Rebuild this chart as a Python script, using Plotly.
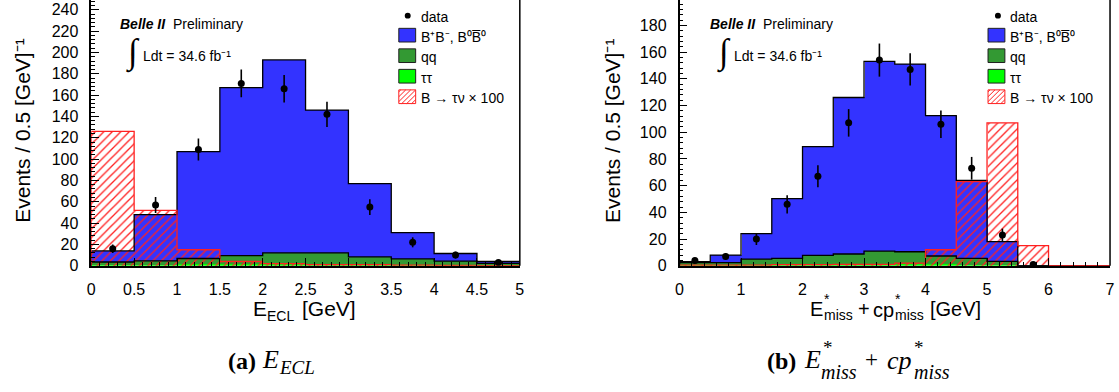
import plotly.graph_objects as go

W, H = 1119, 392

# ---------------- data : panel (a)  E_ECL ----------------
bin_width = 0.5
bins_a = [0.0, 0.5, 1.0, 1.5, 2.0, 2.5, 3.0, 3.5, 4.0, 4.5]          # lower bin edges [GeV]
bbbar_a = [10.5, 43.5, 100.2, 157.5, 181.0, 134.0, 68.7, 24.5, 7.2, 1.8]
qq_a = [3.0, 4.0, 6.0, 8.5, 11.0, 11.0, 7.5, 6.0, 4.0, 2.0]
tautau_a = [0.5, 0.5, 0.8, 1.0, 1.0, 1.0, 0.8, 0.5, 0.3, 0.2]
signal_a = [126, 52, 15, 4, 2, 1, 1, 0.5, 0.3, 0.2]                 # B -> tau nu x 100
data_a = [16, 57, 109, 171, 166, 142, 55, 22, 10, 3]
data_err_a = [4.0, 7.5, 10.4, 13.1, 12.9, 11.9, 7.4, 4.7, 3.2, 1.7]

# ---------------- data : panel (b)  E*miss + cp*miss ----------------
bins_b = [0.0, 0.5, 1.0, 1.5, 2.0, 2.5, 3.0, 3.5, 4.0, 4.5, 5.0, 5.5, 6.0, 6.5]
bbbar_b = [0.7, 5.7, 19.0, 44.8, 81.4, 117.2, 142.0, 140.5, 105.1, 58.5, 14.7, 0, 0, 0]
qq_b = [2.0, 2.0, 4.5, 5.0, 7.0, 8.0, 10.0, 9.5, 6.5, 5.0, 3.0, 0, 0, 0]
tautau_b = [0.3, 0.3, 0.5, 0.5, 0.8, 0.8, 1.0, 1.0, 0.8, 0.5, 0.3, 0, 0, 0]
signal_b = [0.5, 0.5, 0.5, 0.8, 0.8, 1.0, 1.0, 2.0, 12, 63, 107, 15, 0, 0]
data_b = [4, 7, 20, 46, 67, 107, 154, 147, 106, 73, 23, 1, None, None]
data_err_b = [2.0, 2.6, 4.5, 6.8, 8.2, 10.3, 12.4, 12.1, 10.3, 8.5, 4.8, 1.0, None, None]

legend_labels = ["data", "B\u207aB\u207b, B\u2070B\u0305\u2070",
                 "qq", "\u03c4\u03c4", "B \u2192 \u03c4\u03bd \u00d7 100"]

C_BB = "#3333ff"
C_QQ = "#339933"
C_TT = "#00ff00"
C_SIG = "#ff2020"
SANS = "Liberation Sans, Arial, sans-serif"
SERIF = "Liberation Serif, Times New Roman, serif"


def px(x):
    return x / W


def py(y):
    return 1 - y / H


def step_xy(lo, width, vals):
    xs, ys = [lo[0]], [0]
    for x, v in zip(lo, vals):
        xs.append(x)
        ys.append(v)
    xs += [lo[-1] + width, lo[-1] + width]
    ys += [vals[-1], 0]
    return xs, ys


fig = go.Figure()


def add_panel(bins, bb, qq, tt, sig, data, err, xa, ya):
    centers = [b + bin_width / 2 for b in bins]
    base_qq = list(tt)
    base_bb = [q + t for q, t in zip(qq, tt)]
    top = [b + q + t for b, q, t in zip(bb, qq, tt)]
    common = dict(width=bin_width, xaxis=xa, yaxis=ya, showlegend=False,
                  hoverinfo="skip")
    fig.add_trace(go.Bar(x=centers, y=bb, base=base_bb,
                         marker=dict(color=C_BB, line=dict(width=0)), **common))
    fig.add_trace(go.Bar(x=centers, y=qq, base=base_qq,
                         marker=dict(color=C_QQ, line=dict(width=0)), **common))
    fig.add_trace(go.Bar(x=centers, y=tt, base=[0] * len(tt),
                         marker=dict(color=C_TT, line=dict(width=0)), **common))
    fig.add_trace(go.Bar(x=centers, y=sig, base=[0] * len(sig),
                         marker=dict(color=C_SIG, line=dict(width=0),
                                     pattern=dict(shape="/", fgcolor=C_SIG,
                                                  bgcolor="rgba(0,0,0,0)",
                                                  fillmode="replace",
                                                  size=6, solidity=0.22)),
                         **common))
    # histogram outlines
    for vals, col in ((base_bb, "black"), (top, "black"), (sig, C_SIG)):
        sx, sy = step_xy(bins, bin_width, vals)
        fig.add_trace(go.Scatter(x=sx, y=sy, mode="lines", line_shape="hv",
                                 line=dict(color=col, width=1.3),
                                 xaxis=xa, yaxis=ya, showlegend=False,
                                 hoverinfo="skip"))
    fig.add_trace(go.Scatter(x=centers, y=data, mode="markers",
                             marker=dict(color="black", size=7),
                             error_y=dict(type="data", array=err, color="black",
                                          thickness=1.6, width=0),
                             xaxis=xa, yaxis=ya, showlegend=False,
                             hoverinfo="skip"))


add_panel(bins_a, bbbar_a, qq_a, tautau_a, signal_a, data_a, data_err_a, "x", "y")
add_panel(bins_b, bbbar_b, qq_b, tautau_b, signal_b, data_b, data_err_b, "x2", "y2")

axis_common = dict(showgrid=False, zeroline=False, showline=True, linecolor="black",
                   linewidth=1.5, ticks="inside", tickcolor="black", tickwidth=1.2,
                   ticklen=8, tickfont=dict(family=SANS, size=16, color="black"),
                   tickmode="linear")
minor_common = dict(ticks="inside", ticklen=4, tickcolor="black", tickwidth=1)

ydom = [py(272), 1.0]
fig.update_layout(
    width=W, height=H, margin=dict(l=0, r=0, t=0, b=0),
    paper_bgcolor="white", plot_bgcolor="white", barmode="overlay",
    bargap=0,
    xaxis=dict(domain=[px(88), px(520)], range=[0, 5], anchor="y", tick0=0,
               dtick=0.5, minor=dict(dtick=0.1, **minor_common),
               ticklabelstandoff=8, **axis_common),
    yaxis=dict(domain=ydom, range=[0, 249.2], anchor="x", tick0=0, dtick=20,
               minor=dict(dtick=4, **minor_common),
               ticklabelstandoff=8, **axis_common),
    xaxis2=dict(domain=[px(681), px(1115)], range=[0, 7], anchor="y2", tick0=0,
                dtick=1, minor=dict(dtick=0.2, **minor_common),
                ticklabelstandoff=8, **axis_common),
    yaxis2=dict(domain=ydom, range=[0, 199], anchor="x2", tick0=0, dtick=20,
                minor=dict(dtick=4, **minor_common),
                ticklabelstandoff=8, **axis_common),
)

shapes = []
annotations = []

# right frame edges
for xa, ya in (("x", "y"), ("x2", "y2")):
    shapes.append(dict(type="line", xref=f"{xa} domain", yref=f"{ya} domain",
                       x0=1, x1=1, y0=0, y1=1, line=dict(color="black", width=1.5)))


def ann(x, y, text, size=14, family=SANS, xanchor="center", angle=0):
    annotations.append(dict(x=px(x), y=py(y), xref="paper", yref="paper",
                            text=text, showarrow=False, xanchor=xanchor,
                            yanchor="middle", textangle=angle,
                            font=dict(family=family, size=size, color="black")))


def legend(x_box, x_text, x_dot):
    ys = [16, 36, 57, 78, 99]
    # data dot
    shapes.append(dict(type="circle", xref="paper", yref="paper",
                       x0=px(x_dot - 3), x1=px(x_dot + 3), y0=py(ys[0] + 3),
                       y1=py(ys[0] - 3), fillcolor="black", line=dict(width=0)))
    for yc, col in zip(ys[1:4], (C_BB, C_QQ, C_TT)):
        shapes.append(dict(type="rect", xref="paper", yref="paper",
                           x0=px(x_box), x1=px(x_box + 17), y0=py(yc + 7),
                           y1=py(yc - 7), fillcolor=col,
                           line=dict(color="#202020", width=1)))
    yc = ys[4]
    y0, y1 = yc - 7, yc + 7
    for t in range(-12, 17, 5):
        s0, s1 = max(0, -t), min(14, 17 - t)
        if s1 > s0:
            shapes.append(dict(type="line", xref="paper", yref="paper",
                               x0=px(x_box + t + s0), y0=py(y1 - s0),
                               x1=px(x_box + t + s1), y1=py(y1 - s1),
                               line=dict(color=C_SIG, width=1)))
    shapes.append(dict(type="rect", xref="paper", yref="paper",
                       x0=px(x_box), x1=px(x_box + 17), y0=py(y1), y1=py(y0),
                       line=dict(color=C_SIG, width=1)))
    for yc, t in zip(ys, legend_labels):
        ann(x_text, yc + 1.5, t, size=14, xanchor="left")


legend(398, 418, 407)
legend(992, 1012, 1002)

# Belle II labels
for x_b, x_int, x_l in ((115, 130, 138), (710, 726, 734)):
    ann(x_b, 25, "<b><i>Belle II</i></b>  Preliminary", size=14, xanchor="left")
    ann(x_int, 54, "\u222b", size=35, family=SERIF)
    ann(x_l, 57, "Ldt = 34.6 fb\u207b\u00b9", size=14, xanchor="left")

# y-axis titles
ann(19, 134, "Events / 0.5 [GeV]\u207b\u00b9", size=21, angle=-90)
ann(614, 134, "Events / 0.5 [GeV]\u207b\u00b9", size=21, angle=-90)

# x-axis title (a): E_ECL [GeV]
ann(258, 316, "E", size=21)
ann(279, 323, "ECL", size=14)
ann(328, 316, "[GeV]", size=21)

# x-axis title (b): E*_miss + cp*_miss [GeV]
ann(819, 316, "E", size=20)
ann(830, 306, "*", size=14)
ann(841, 322, "miss", size=14)
ann(867, 316, "+", size=20)
ann(887, 317, "cp", size=20)
ann(901, 306, "*", size=14)
ann(913, 322, "miss", size=14)
ann(959, 316, "[GeV]", size=20)

# captions
ann(240, 369, "<b>(a)</b>", size=24, family=SERIF)
ann(269, 368, "<i>E</i>", size=26, family=SERIF)
ann(295, 376, "<i>ECL</i>", size=19, family=SERIF)

ann(784, 369, "<b>(b)</b>", size=24, family=SERIF)
ann(815, 368, "<i>E</i>", size=26, family=SERIF)
ann(831, 356, "*", size=19, family=SERIF)
ann(842, 381, "<i>miss</i>", size=20, family=SERIF)
ann(875, 368, "+", size=23, family=SERIF)
ann(903, 369, "<i>cp</i>", size=26, family=SERIF)
ann(922, 356, "*", size=19, family=SERIF)
ann(936, 381, "<i>miss</i>", size=20, family=SERIF)

fig.update_layout(shapes=shapes, annotations=annotations)
fig.write_html("out.html")
